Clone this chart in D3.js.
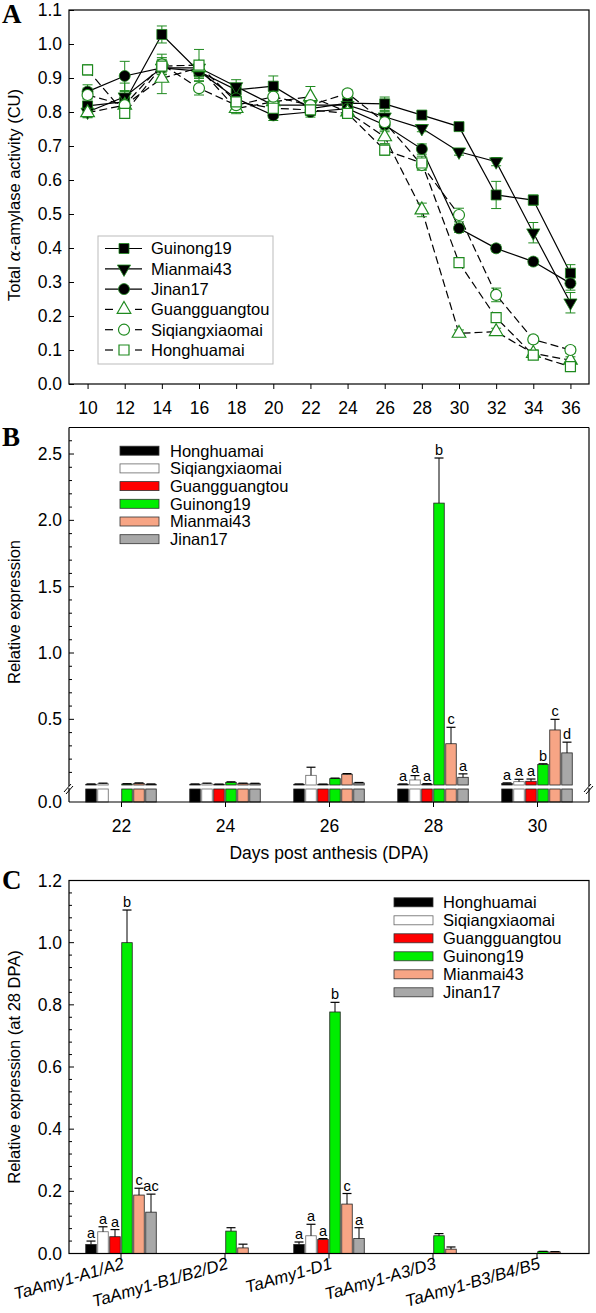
<!DOCTYPE html>
<html><head><meta charset="utf-8">
<script src="https://cdn.jsdelivr.net/npm/d3@7"></script>
<style>
body{margin:0;background:#fff}
svg{display:block}
text{font-family:Arial,"Liberation Sans",sans-serif;fill:#000}
</style>
</head><body>
<svg id="c" width="596" height="1313"></svg>
<script>
// ---------------- DATA ----------------
// Panel A
const daysA = [10,12,14,16,18,20,22,24,26,28,30,32,34,36];
const guinong19A = [0.818,0.830,1.028,0.919,0.865,0.876,0.810,0.826,0.824,0.791,0.757,0.556,0.541,0.326];
const guinong19AErr = [0.02,0.03,0.025,0.02,0.015,0.03,0.02,0.015,0.02,0.01,0.012,0.04,0.015,0.025];
const mianmai43A = [0.800,0.845,0.930,0.930,0.875,0.820,0.820,0.820,0.786,0.752,0.683,0.654,0.445,0.239];
const mianmai43AErr = [0.015,0.04,0.03,0.02,0.02,0.015,0.02,0.015,0.015,0.01,0.01,0.012,0.03,0.03];
const jinan17A = [0.860,0.906,0.930,0.920,0.840,0.790,0.800,0.810,0.762,0.691,0.458,0.399,0.360,0.296];
const jinan17AErr = [0.02,0.043,0.02,0.02,0.015,0.015,0.015,0.015,0.02,0.015,0.012,0.01,0.01,0.02];
const guangA = [0.798,0.820,0.899,0.930,0.810,0.830,0.845,0.800,0.727,0.512,0.149,0.154,0.090,0.070];
const guangAErr = [0.015,0.02,0.045,0.02,0.015,0.02,0.03,0.015,0.02,0.02,0.01,0.01,0.01,0.01];
const siqiangA = [0.850,0.820,0.940,0.870,0.820,0.845,0.820,0.855,0.770,0.644,0.497,0.262,0.131,0.100];
const siqiangAErr = [0.02,0.02,0.03,0.02,0.015,0.015,0.015,0.01,0.015,0.015,0.02,0.02,0.01,0.01];
const hongA = [0.924,0.796,0.935,0.938,0.830,0.811,0.806,0.796,0.688,0.650,0.357,0.195,0.085,0.051];
const hongAErr = [0.015,0.015,0.02,0.046,0.02,0.015,0.015,0.01,0.015,0.02,0.01,0.01,0.01,0.008];
const yTicksA = [0,0.1,0.2,0.3,0.4,0.5,0.6,0.7,0.8,0.9,1.0,1.1];
const xTicksA = [10,12,14,16,18,20,22,24,26,28,30,32,34,36];

// Panel B
const cultivars = ['Honghuamai','Siqiangxiaomai','Guangguangtou','Guinong19','Mianmai43','Jinan17'];
const barColors = ['#000000','#ffffff','#ff0000','#00ee00','#f7a585','#a8a8a8'];
const daysB = [22,24,26,28,30];
const hongB = [0.010,0.010,0.010,0.010,0.017];
const hongBErr = [0.003,0.003,0.003,0.003,0.004];
const siqiangB = [0.015,0.015,0.078,0.043,0.030];
const siqiangBErr = [0.004,0.004,0.061,0.033,0.018];
const guangB = [null,0.010,0.010,0.010,0.033];
const guangBErr = [null,0.002,0.002,0.005,0.017];
const guinongB = [0.012,0.025,0.053,2.13,0.159];
const guinongBErr = [0.003,0.004,0.004,0.34,0.006];
const mianmaiB = [0.017,0.015,0.086,0.316,0.420];
const mianmaiBErr = [0.004,0.004,0.005,0.124,0.080];
const jinanB = [0.010,0.015,0.020,0.063,0.247];
const jinanBErr = [0.003,0.003,0.004,0.026,0.081];
const lettersB = [null,null,null,['a','a','a','b','c','a'],['a','a','a','b','c','d']];
const yMajorB = [0.5,1.0,1.5,2.0,2.5];

// Panel C
const genes = ['TaAmy1-A1/A2','TaAmy1-B1/B2/D2','TaAmy1-D1','TaAmy1-A3/D3','TaAmy1-B3/B4/B5'];
const hongC = [0.029,null,0.029,null,null];
const hongCErr = [0.011,null,0.008,null,null];
const siqiangC = [0.070,null,0.057,null,null];
const siqiangCErr = [0.016,null,0.037,null,null];
const guangC = [0.054,null,0.045,null,null];
const guangCErr = [0.023,null,0.003,null,null];
const guinongC = [1.000,0.072,0.777,0.057,0.006];
const guinongCErr = [0.105,0.011,0.031,0.007,0.001];
const mianmaiC = [0.188,0.018,0.159,0.014,0.005];
const mianmaiCErr = [0.022,0.012,0.034,0.007,0.001];
const jinanC = [0.133,null,0.048,null,null];
const jinanCErr = [0.058,null,0.035,null,null];
const lettersC = [['a','a','a','b','c','ac'],null,['a','a','a','b','c','a'],null,null];
const yMajorC = [0,0.2,0.4,0.6,0.8,1.0,1.2];

// ---------------- DRAW ----------------
const svg = d3.select('#c');
const GREEN = '#1f8a1f';
const FS = 16.5;
const TFS = 17.5;
const L = 69, R = 589;

function panelLabel(t, y){
  svg.append('text').attr('x',2).attr('y',y).text(t)
    .style('font-family','"Liberation Serif","Times New Roman",serif')
    .style('font-weight','bold').style('font-size','27px');
}
function yTitle(t, cy){
  svg.append('text').attr('transform',`translate(20,${cy}) rotate(-90)`)
    .attr('text-anchor','middle').style('font-size',FS+'px').text(t);
}

// ===== Panel A =====
(function(){
  const top=10, bot=384;
  const x = d3.scaleLinear().domain([9,37]).range([L,R]);
  const y = d3.scaleLinear().domain([0,1.1]).range([bot,top]);
  const g = svg.append('g');
  g.append('g').attr('transform',`translate(${L},0)`)
    .call(d3.axisLeft(y).tickValues(yTicksA).tickFormat(d3.format('.1f')).tickSizeInner(-5).tickSizeOuter(0).tickPadding(7))
    .call(a=>{a.select('.domain').remove(); a.selectAll('text').style('font-size',TFS+'px').style('font-family','Arial,"Liberation Sans",sans-serif');});
  g.append('g').attr('transform',`translate(0,${bot})`)
    .call(d3.axisBottom(x).tickValues(xTicksA).tickSizeInner(5).tickSizeOuter(0).tickPadding(13))
    .call(a=>{a.select('.domain').remove(); a.selectAll('text').style('font-size',TFS+'px').style('font-family','Arial,"Liberation Sans",sans-serif');});
  g.append('rect').attr('x',L).attr('y',top).attr('width',R-L).attr('height',bot-top)
    .attr('fill','none').attr('stroke','#000').attr('stroke-width',1.2);
  const tt = svg.append('text').attr('transform',`translate(20,195) rotate(-90)`)
    .attr('text-anchor','middle').style('font-size',FS+'px');
  tt.append('tspan').text('Total ');
  tt.append('tspan').text('α').style('font-family','"DejaVu Serif",serif').style('font-style','italic');
  tt.append('tspan').text('-amylase activity (CU)');

  const series = [
    {name:'Guinong19', v:guinong19A, e:guinong19AErr, sym:d3.symbolSquare, size:100, rot:0, filled:true},
    {name:'Mianmai43', v:mianmai43A, e:mianmai43AErr, sym:d3.symbolTriangle, size:75, rot:180, filled:true},
    {name:'Jinan17', v:jinan17A, e:jinan17AErr, sym:d3.symbolCircle, size:95, rot:0, filled:true},
    {name:'Guangguangtou', v:guangA, e:guangAErr, sym:d3.symbolTriangle, size:80, rot:0, filled:false},
    {name:'Siqiangxiaomai', v:siqiangA, e:siqiangAErr, sym:d3.symbolCircle, size:95, rot:0, filled:false},
    {name:'Honghuamai', v:hongA, e:hongAErr, sym:d3.symbolSquare, size:100, rot:0, filled:false}
  ];
  const line = d3.line().x((d,i)=>x(daysA[i])).y(d=>y(d));
  series.forEach(s=>{
    g.append('path').attr('d',line(s.v)).attr('fill','none').attr('stroke','#000')
      .attr('stroke-width',1.2).attr('stroke-dasharray',s.filled?null:'8,4');
  });
  series.forEach(s=>{
    s.v.forEach((d,i)=>{
      const cx=x(daysA[i]), y1=y(d+s.e[i]), y0=y(d-s.e[i]);
      const eg = g.append('g').attr('stroke',GREEN).attr('stroke-width',1);
      eg.append('line').attr('x1',cx).attr('x2',cx).attr('y1',y0).attr('y2',y1);
      eg.append('line').attr('x1',cx-5).attr('x2',cx+5).attr('y1',y1).attr('y2',y1);
      eg.append('line').attr('x1',cx-5).attr('x2',cx+5).attr('y1',y0).attr('y2',y0);
    });
  });
  series.forEach(s=>{
    s.v.forEach((d,i)=>{
      g.append('path').attr('d',d3.symbol(s.sym,s.size)())
        .attr('transform',`translate(${x(daysA[i])},${y(d)}) rotate(${s.rot})`)
        .attr('fill',s.filled?'#000':'#fff').attr('stroke',GREEN).attr('stroke-width',s.filled?0.8:1.2);
    });
  });
  // legend
  const lg = g.append('g');
  lg.append('rect').attr('x',98).attr('y',236).attr('width',175).attr('height',128)
    .attr('fill','#fff').attr('stroke','#bbb').attr('stroke-width',1);
  series.forEach((s,i)=>{
    const cy = 248.5 + i*20.3;
    if(s.filled){
      lg.append('line').attr('x1',105).attr('x2',142).attr('y1',cy).attr('y2',cy).attr('stroke','#000').attr('stroke-width',1.2);
    } else {
      lg.append('line').attr('x1',105).attr('x2',113).attr('y1',cy).attr('y2',cy).attr('stroke','#000').attr('stroke-width',1.2);
      lg.append('line').attr('x1',135).attr('x2',142).attr('y1',cy).attr('y2',cy).attr('stroke','#000').attr('stroke-width',1.2);
    }
    lg.append('path').attr('d',d3.symbol(s.sym,s.size)())
      .attr('transform',`translate(124,${cy}) rotate(${s.rot})`)
      .attr('fill',s.filled?'#000':'#fff').attr('stroke',GREEN).attr('stroke-width',s.filled?0.8:1.2);
    lg.append('text').attr('x',151).attr('y',cy).attr('dy','0.36em').style('font-size',FS+'px').text(s.name);
  });
})();
panelLabel('A',23);

// ===== Panel B =====
(function(){
  const top=427.5, bot=802, lowTop=789, upBot=785, brk=0.005;
  const x = d3.scaleLinear().domain([21,31]).range([L,R]);
  const yUp = d3.scaleLinear().domain([brk,2.7]).range([upBot,top]);
  const g = svg.append('g');
  const vals = [hongB,siqiangB,guangB,guinongB,mianmaiB,jinanB];
  const errs = [hongBErr,siqiangBErr,guangBErr,guinongBErr,mianmaiBErr,jinanBErr];
  const pitch=12, bw=10.5;
  vals.forEach((arr,si)=>{
    arr.forEach((v,di)=>{
      if(v==null) return;
      const cx = x(daysB[di]) + (si-2.5)*pitch;
      const stroke = si===1 ? '#666' : '#222';
      g.append('rect').attr('x',cx-bw/2).attr('y',lowTop).attr('width',bw).attr('height',bot-lowTop)
        .attr('fill',barColors[si]).attr('stroke',stroke).attr('stroke-width',0.8);
      const yt = yUp(v);
      g.append('rect').attr('x',cx-bw/2).attr('y',yt).attr('width',bw).attr('height',Math.max(upBot-yt,0.5))
        .attr('fill',barColors[si]).attr('stroke',stroke).attr('stroke-width',0.8);
      const ye = yUp(v+errs[si][di]);
      g.append('line').attr('x1',cx).attr('x2',cx).attr('y1',yt).attr('y2',ye).attr('stroke','#000').attr('stroke-width',1);
      g.append('line').attr('x1',cx-4.5).attr('x2',cx+4.5).attr('y1',ye).attr('y2',ye).attr('stroke','#000').attr('stroke-width',1.2);
      if(lettersB[di]){
        g.append('text').attr('x',cx).attr('y',ye-3).attr('text-anchor','middle').style('font-size','14.5px').text(lettersB[di][si]);
      }
    });
  });
  // frame with break
  const fr = g.append('g').attr('stroke','#000').attr('stroke-width',1.2).attr('fill','none');
  fr.append('line').attr('x1',L).attr('x2',R).attr('y1',top).attr('y2',top);
  fr.append('line').attr('x1',L).attr('x2',R).attr('y1',bot).attr('y2',bot);
  [L,R].forEach(xx=>{
    fr.append('line').attr('x1',xx).attr('x2',xx).attr('y1',top).attr('y2',upBot+1);
    fr.append('line').attr('x1',xx).attr('x2',xx).attr('y1',lowTop-1).attr('y2',bot);
    fr.append('line').attr('x1',xx-5).attr('x2',xx+2).attr('y1',792).attr('y2',784).attr('stroke-width',1);
    fr.append('line').attr('x1',xx-3).attr('x2',xx+4).attr('y1',794).attr('y2',786).attr('stroke-width',1);
  });
  // y ticks
  const minor = d3.range(1,27).map(d=>d/10);
  minor.forEach(t=>{
    const isMaj = yMajorB.some(m=>Math.abs(m-t)<1e-6);
    g.append('line').attr('x1',L).attr('x2',L+(isMaj?5:3)).attr('y1',yUp(t)).attr('y2',yUp(t)).attr('stroke','#000');
  });
  yMajorB.forEach(t=>{
    g.append('text').attr('x',L-7).attr('y',yUp(t)).attr('dy','0.35em').attr('text-anchor','end').style('font-size',TFS+'px').text(d3.format('.1f')(t));
  });
  g.append('text').attr('x',L-7).attr('y',bot).attr('dy','0.35em').attr('text-anchor','end').style('font-size',TFS+'px').text('0.0');
  // x axis
  g.append('g').attr('transform',`translate(0,${bot})`)
    .call(d3.axisBottom(x).tickValues(daysB).tickSizeInner(5).tickSizeOuter(0).tickPadding(13))
    .call(a=>{a.select('.domain').remove(); a.selectAll('text').style('font-size',TFS+'px').style('font-family','Arial,"Liberation Sans",sans-serif');});
  g.append('text').attr('x',(L+R)/2).attr('y',859).attr('text-anchor','middle').style('font-size',TFS+'px').text('Days post anthesis (DPA)');
  yTitle('Relative expression',612);
  // legend
  cultivars.forEach((c,i)=>{
    const cy = 450.7 + i*17.7;
    g.append('rect').attr('x',120).attr('y',cy-4.5).attr('width',39).attr('height',9)
      .attr('fill',barColors[i]).attr('stroke',i===1?'#666':'#333').attr('stroke-width',0.8);
    g.append('text').attr('x',170).attr('y',cy).attr('dy','0.36em').style('font-size',FS+'px').text(c);
  });
})();
panelLabel('B',446);

// ===== Panel C =====
(function(){
  const top=880.5, bot=1253.5;
  const x = d3.scalePoint().domain(genes).range([L,R]).padding(0.5);
  const y = d3.scaleLinear().domain([0,1.2]).range([bot,top]);
  const g = svg.append('g');
  const vals = [hongC,siqiangC,guangC,guinongC,mianmaiC,jinanC];
  const errs = [hongCErr,siqiangCErr,guangCErr,guinongCErr,mianmaiCErr,jinanCErr];
  const pitch=12, bw=10.5;
  vals.forEach((arr,si)=>{
    arr.forEach((v,gi)=>{
      if(v==null) return;
      const cx = x(genes[gi]) + (si-2.5)*pitch;
      const stroke = si===1 ? '#666' : '#222';
      const yt=y(v);
      g.append('rect').attr('x',cx-bw/2).attr('y',yt).attr('width',bw).attr('height',bot-yt)
        .attr('fill',barColors[si]).attr('stroke',stroke).attr('stroke-width',0.8);
      const ye = y(v+errs[si][gi]);
      g.append('line').attr('x1',cx).attr('x2',cx).attr('y1',yt).attr('y2',ye).attr('stroke','#000').attr('stroke-width',1);
      g.append('line').attr('x1',cx-4.5).attr('x2',cx+4.5).attr('y1',ye).attr('y2',ye).attr('stroke','#000').attr('stroke-width',1.2);
      if(lettersC[gi]){
        g.append('text').attr('x',cx).attr('y',ye-3).attr('text-anchor','middle').style('font-size','14.5px').text(lettersC[gi][si]);
      }
    });
  });
  g.append('rect').attr('x',L).attr('y',top).attr('width',R-L).attr('height',bot-top)
    .attr('fill','none').attr('stroke','#000').attr('stroke-width',1.2);
  d3.range(1,30).map(d=>d*0.04).forEach(t=>{
    const isMaj = yMajorC.some(m=>Math.abs(m-t)<1e-6);
    g.append('line').attr('x1',L).attr('x2',L+(isMaj?5:3)).attr('y1',y(t)).attr('y2',y(t)).attr('stroke','#000');
  });
  yMajorC.forEach(t=>{
    g.append('text').attr('x',L-7).attr('y',y(t)).attr('dy','0.35em').attr('text-anchor','end').style('font-size',TFS+'px').text(d3.format('.1f')(t));
  });
  genes.forEach(gn=>{
    const tx=x(gn);
    g.append('line').attr('x1',tx).attr('x2',tx).attr('y1',bot).attr('y2',bot+5).attr('stroke','#000');
    g.append('text').attr('transform',`translate(${tx+4},${bot+15}) rotate(-16)`)
      .attr('text-anchor','end').style('font-size','17px').style('font-style','italic').text(gn);
  });
  yTitle('Relative expression (at 28 DPA)',1067);
  cultivars.forEach((c,i)=>{
    const cy = 902.3 + i*18;
    g.append('rect').attr('x',394).attr('y',cy-4.5).attr('width',39).attr('height',9)
      .attr('fill',barColors[i]).attr('stroke',i===1?'#666':'#333').attr('stroke-width',0.8);
    g.append('text').attr('x',443).attr('y',cy).attr('dy','0.36em').style('font-size',FS+'px').text(c);
  });
})();
panelLabel('C',889);
</script>
</body></html>
